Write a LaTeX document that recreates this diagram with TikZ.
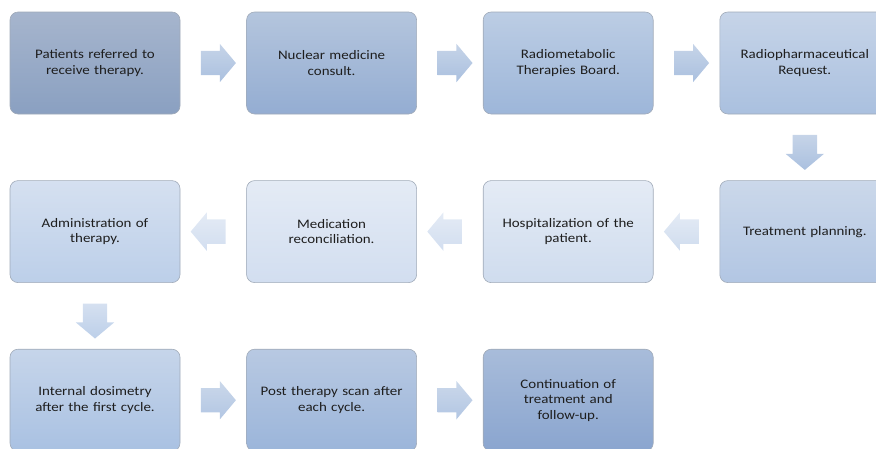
\documentclass[tikz,border=0pt]{standalone}
\usepackage{fontspec}
\setmainfont{Carlito}[FakeStretch=1.15]
\usetikzlibrary{calc}
\usetikzlibrary{positioning}
\usetikzlibrary{shapes.arrows}

\definecolor{stageborder}{RGB}{160,170,184}
\definecolor{stagetext}{RGB}{30,30,30}
\definecolor{bluea}{RGB}{166,181,205}\definecolor{blueA}{RGB}{138,160,193}
\definecolor{blueb}{RGB}{180,197,221}\definecolor{blueB}{RGB}{148,173,210}
\definecolor{bluec}{RGB}{188,205,228}\definecolor{blueC}{RGB}{157,182,217}
\definecolor{blued}{RGB}{198,212,232}\definecolor{blueD}{RGB}{170,192,223}
\definecolor{bluee}{RGB}{203,216,234}\definecolor{blueE}{RGB}{178,198,227}
\definecolor{bluef}{RGB}{228,235,245}\definecolor{blueF}{RGB}{207,220,238}
\definecolor{blueg}{RGB}{228,235,245}\definecolor{blueG}{RGB}{210,222,240}
\definecolor{blueh}{RGB}{213,224,240}\definecolor{blueH}{RGB}{188,207,233}
\definecolor{bluei}{RGB}{198,213,234}\definecolor{blueI}{RGB}{169,193,226}
\definecolor{bluej}{RGB}{184,201,226}\definecolor{blueJ}{RGB}{155,181,218}
\definecolor{bluek}{RGB}{168,188,218}\definecolor{blueK}{RGB}{138,165,207}

\tikzset{
  tint/.style 2 args={top color=#1, bottom color=#2},
  stage/.style={draw=stageborder, line width=0.6pt, rounded corners=8pt,
    minimum width=170pt, minimum height=102pt, text width=154pt, align=center,
    font=\fontsize{13}{15.5}\selectfont, text=stagetext},
  flow/.style={single arrow, draw=none, inner xsep=0pt, inner ysep=12pt,
    minimum height=35pt, single arrow head extend=7pt, single arrow tip angle=100},
  flowdown/.style={flow, shape border rotate=270, inner xsep=12pt, inner ysep=0pt}
}

\begin{document}
\begin{tikzpicture}[x=1pt, y=-1pt, node distance=66pt]
  \useasboundingbox (0,0) rectangle (876,448);

  \begin{scope}[every node/.style={stage}]
    \node [tint={bluea}{blueA}] (patients) at (95,63) {Patients referred to\\receive therapy.};
    \node [tint={blueb}{blueB}, right=of patients] (consult) {Nuclear medicine\\consult.};
    \node [tint={bluec}{blueC}, right=of consult] (board) {Radiometabolic\\Therapies Board.};
    \node [tint={blued}{blueD}, right=of board] (request) {Radiopharmaceutical\\Request.};
    \node [tint={bluee}{blueE}, below=of request] (planning) {Treatment planning.};
    \node [tint={bluef}{blueF}, left=of planning] (hospital) {Hospitalization of the\\patient.};
    \node [tint={blueg}{blueG}, left=of hospital] (reconcile) {Medication\\reconciliation.};
    \node [tint={blueh}{blueH}, left=of reconcile] (admin) {Administration of\\therapy.};
    \node [tint={bluei}{blueI}, below=of admin] (dosimetry) {Internal dosimetry\\after the first cycle.};
    \node [tint={bluej}{blueJ}, right=of dosimetry] (scan) {Post therapy scan after\\each cycle.};
    \node [tint={bluek}{blueK}, right=of scan] (followup) {Continuation of\\treatment and\\follow-up.};
  \end{scope}

  % block arrows between the stages
  \begin{scope}[every node/.style={flow}]
    \node [tint={blued}{blueD}] (a1) at ($(patients)!0.5!(consult)$) {};
    \node [tint={blued}{blueD}] (a2) at ($(consult)!0.5!(board)$) {};
    \node [tint={blued}{blueD}] (a3) at ($(board)!0.5!(request)$) {};
    \node [flowdown, tint={blued}{blueD}] (a4) at ($(request)!0.5!(planning)$) {};
    \node [tint={bluef}{blueF}, shape border rotate=180] (a5) at ($(planning)!0.5!(hospital)$) {};
    \node [tint={blueg}{blueG}, shape border rotate=180] (a6) at ($(hospital)!0.5!(reconcile)$) {};
    \node [tint={blueg}{blueG}, shape border rotate=180] (a7) at ($(reconcile)!0.5!(admin)$) {};
    \node [flowdown, tint={blueh}{blueH}] (a8) at ($(admin)!0.5!(dosimetry)$) {};
    \node [tint={bluee}{blueE}] (a9) at ($(dosimetry)!0.5!(scan)$) {};
    \node [tint={bluee}{blueE}] (a10) at ($(scan)!0.5!(followup)$) {};
  \end{scope}
\end{tikzpicture}
\end{document}
